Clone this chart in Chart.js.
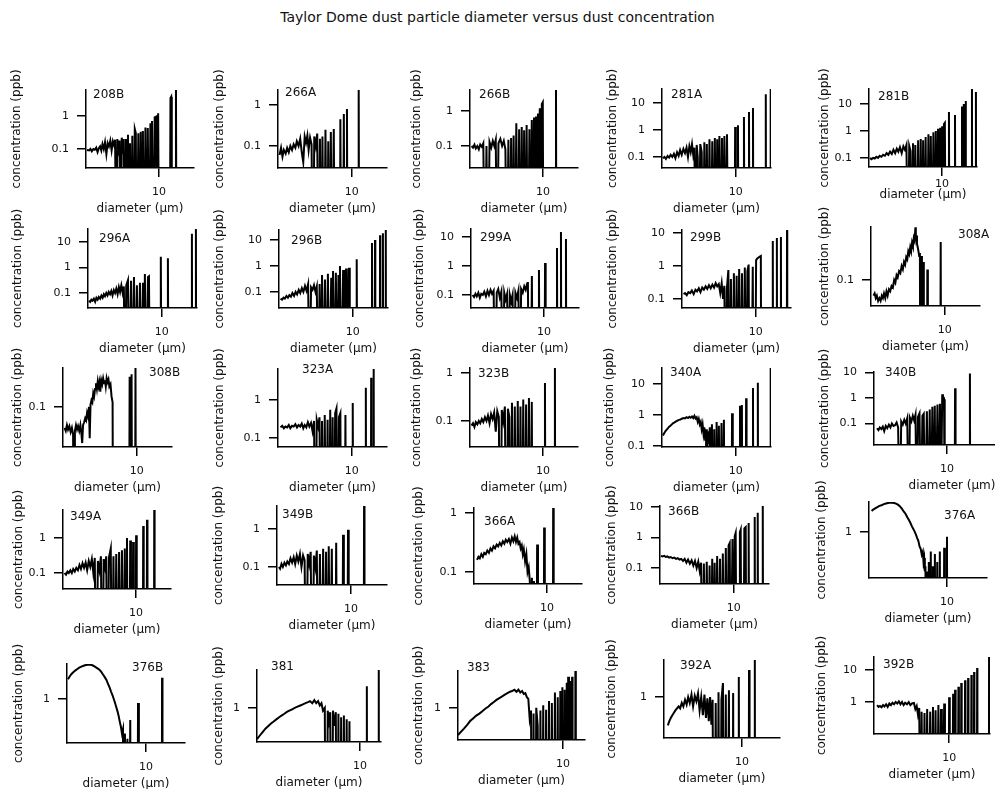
<!DOCTYPE html>
<html>
<head>
<meta charset="utf-8">
<title>Taylor Dome dust</title>
<script src="https://cdn.jsdelivr.net/npm/chart.js@4.4.1/dist/chart.umd.min.js"></script>
<style>
  body { margin: 0; background: #fff; }
  #page { position: relative; width: 995px; height: 789px; overflow: hidden; background: #fff; }
  #title { position: absolute; left: 0; top: 9px; width: 995px; text-align: center; font: 14px "DejaVu Sans", sans-serif; color: #111; }
  #page canvas { position: absolute; }
</style>
</head>
<body>
<div id="page"><div id="title">Taylor Dome dust particle diameter versus dust concentration</div></div>
<script>
// [diameter (um), concentration (ppb)], 0 = empty channel
const s208B = [[1.03,0.093],[1.1,0.09],[1.15,0.1],[1.2,0.085],[1.26,0.1],[1.32,0.095],[1.38,0.11],[1.44,0.08],[1.5,0.105],[1.56,0.12],[1.62,0.09],[1.68,0.14],[1.75,0.1],[1.82,0.16],[1.9,0.07],[1.98,0.15],[2.06,0.12],[2.15,0.18],[2.24,0.09],[2.33,0.17],[2.42,0.13],[2.5,0.19],[2.6,0],[2.68,0.2],[2.78,0.1],[2.88,0.18],[2.98,0],[3.08,0.22],[3.18,0.12],[3.28,0.2],[3.4,0],[3.52,0.2],[3.62,0],[3.75,0.27],[3.85,0],[4.0,0.15],[4.15,0],[4.3,0.25],[4.45,0],[4.65,0.4],[4.8,0.3],[4.95,0],[5.2,0.3],[5.35,0],[5.6,0.33],[5.8,0],[6.0,0.35],[6.2,0],[6.5,0.45],[6.8,0],[7.0,0.43],[7.3,0],[7.6,0.6],[7.8,0],[8.0,0.7],[8.4,0],[8.7,0.9],[9.1,0.95],[9.4,0],[9.7,1.2],[10.0,0],[14.0,0],[14.3,3.5],[14.6,3.8],[14.9,0],[16.7,0],[17.0,7],[17.3,0]]
const s266A = [[1.05,0.06],[1.1,0.09],[1.15,0.055],[1.2,0.08],[1.27,0.065],[1.33,0.09],[1.4,0.07],[1.47,0.1],[1.55,0.08],[1.63,0.11],[1.72,0.09],[1.8,0.13],[1.9,0.1],[2.0,0.15],[2.1,0.07],[2.2,0.04],[2.3,0.17],[2.4,0.12],[2.5,0.18],[2.6,0.08],[2.72,0.16],[2.85,0.11],[2.98,0],[3.1,0.17],[3.25,0.1],[3.4,0.2],[3.55,0],[3.7,0.15],[3.85,0],[4.0,0.17],[4.2,0],[4.4,0.25],[4.6,0],[4.8,0.13],[5.0,0],[5.2,0.22],[5.4,0],[5.7,0.26],[5.9,0],[6.9,0],[7.0,0.45],[7.2,0],[7.6,0],[7.8,0.6],[8.0,0],[8.4,0],[8.6,0.8],[8.8,0],[12.2,0],[12.4,3],[12.6,0]]
const s266B = [[1.05,0.1],[1.1,0.09],[1.15,0.11],[1.2,0.085],[1.26,0.1],[1.32,0.08],[1.38,0.11],[1.45,0.095],[1.52,0.12],[1.6,0],[1.68,0.1],[1.76,0],[1.85,0.13],[1.95,0.09],[2.05,0.14],[2.15,0.1],[2.25,0.15],[2.35,0],[2.45,0.12],[2.6,0.16],[2.75,0.1],[2.9,0.14],[3.05,0.08],[3.2,0],[3.35,0.15],[3.5,0],[3.65,0.17],[3.8,0],[3.95,0.2],[4.1,0],[4.3,0.45],[4.5,0],[4.7,0.3],[4.9,0],[5.1,0.35],[5.3,0],[5.5,0.28],[5.7,0],[5.95,0.4],[6.2,0],[6.5,0.3],[6.7,0],[7.0,0.55],[7.2,0],[7.5,0.65],[7.7,0],[8.0,0.7],[8.2,0],[8.5,0.85],[8.7,0],[9.0,1.2],[9.3,0],[9.6,1.6],[9.9,1.8],[10.1,0],[14.8,0],[15.0,5],[15.2,0]]
const s281A = [[1.03,0.09],[1.08,0.1],[1.13,0.085],[1.19,0.11],[1.25,0.095],[1.31,0.12],[1.38,0.1],[1.45,0.13],[1.52,0.09],[1.6,0.15],[1.68,0.11],[1.76,0.18],[1.85,0.12],[1.95,0.2],[2.05,0.14],[2.15,0.22],[2.25,0.1],[2.35,0.25],[2.45,0.15],[2.55,0.3],[2.65,0.12],[2.75,0.22],[2.85,0],[2.95,0.28],[3.05,0.1],[3.15,0],[3.3,0.3],[3.45,0.15],[3.6,0],[3.75,0.35],[3.9,0],[4.05,0.3],[4.2,0],[4.4,0.45],[4.6,0],[4.8,0.38],[5.0,0],[5.2,0.5],[5.4,0],[5.6,0.45],[5.8,0],[6.0,0.6],[6.2,0],[6.5,0.5],[6.7,0],[7.0,0.6],[7.3,0],[7.6,0.7],[7.9,0],[9.6,0],[9.8,1.3],[10.0,0],[10.5,0],[10.7,1.5],[10.9,0],[12.7,0],[12.9,3],[13.1,0],[14.9,0],[15.1,4.6],[15.3,0],[16.9,0],[17.1,6.5],[17.3,0],[25.3,0],[25.5,21],[25.7,0],[29.4,0],[29.6,40],[29.8,0]]
const s281B = [[1.03,0.1],[1.08,0.09],[1.14,0.1],[1.2,0.095],[1.26,0.11],[1.33,0.1],[1.4,0.12],[1.48,0.11],[1.56,0.13],[1.65,0.12],[1.74,0.15],[1.84,0.13],[1.94,0.17],[2.05,0.14],[2.16,0.2],[2.28,0.15],[2.4,0.22],[2.52,0.17],[2.65,0.25],[2.8,0.15],[2.95,0.27],[3.1,0.2],[3.25,0.3],[3.4,0],[3.55,0.28],[3.7,0.18],[3.85,0],[4.0,0.35],[4.15,0],[4.3,0.3],[4.5,0],[4.7,0.45],[4.9,0],[5.1,0.5],[5.3,0],[5.5,0.45],[5.7,0],[5.95,0.6],[6.2,0],[6.5,0.75],[6.7,0],[7.0,0.65],[7.3,0],[7.6,0.9],[7.9,0],[8.2,1.0],[8.5,0],[8.8,1.2],[9.1,0],[9.4,1.3],[9.7,0],[10.0,1.5],[10.3,0],[10.6,1.8],[10.9,2.0],[11.2,0],[12.2,0],[12.4,5],[12.6,0],[14.8,0],[15,3.9],[15.2,0],[18.5,0],[18.7,8],[18.9,0],[19.6,0],[19.8,10],[20,0],[20.8,0],[21,13],[21.2,0],[25.4,0],[25.6,40],[25.8,0],[28.8,0],[29,28],[29.2,0]]
const s296A = [[1.03,0.05],[1.07,0.045],[1.11,0.055],[1.15,0.05],[1.2,0.06],[1.25,0.045],[1.3,0.065],[1.35,0.055],[1.4,0.07],[1.46,0.06],[1.52,0.08],[1.58,0.065],[1.64,0.09],[1.7,0.075],[1.77,0.1],[1.84,0.08],[1.91,0.11],[1.99,0.09],[2.07,0.12],[2.15,0.08],[2.24,0.13],[2.33,0.1],[2.42,0.15],[2.52,0.09],[2.62,0.17],[2.72,0.11],[2.83,0.2],[2.95,0.1],[3.06,0.18],[3.17,0],[3.3,0.2],[3.48,0.32],[3.6,0],[3.83,0.3],[3.95,0],[4.2,0.42],[4.35,0],[4.6,0.2],[4.75,0],[5.06,0.25],[5.2,0],[5.56,0.25],[5.7,0],[5.9,0.55],[6.1,0],[6.5,0.42],[6.7,0.45],[6.9,0],[9.5,0],[9.7,2.6],[9.9,0],[11.9,0],[12.1,2.3],[12.3,0],[25.4,0],[25.6,21],[25.8,0],[28.8,0],[29,35],[29.2,0]]
const s296B = [[1.05,0.055],[1.1,0.05],[1.15,0.06],[1.2,0.055],[1.26,0.07],[1.32,0.06],[1.38,0.075],[1.45,0.065],[1.52,0.09],[1.6,0.07],[1.68,0.1],[1.76,0.08],[1.85,0.12],[1.94,0.09],[2.04,0.14],[2.14,0.1],[2.25,0.17],[2.36,0.11],[2.48,0.2],[2.6,0],[2.72,0.15],[2.85,0.12],[2.98,0.18],[3.12,0.1],[3.25,0.16],[3.4,0],[3.55,0.2],[3.7,0],[3.83,0.45],[4.0,0],[4.2,0.3],[4.4,0],[4.6,0.5],[4.8,0],[5.1,0.35],[5.25,0],[5.4,0.64],[5.6,0],[5.9,0.54],[6.1,0],[6.4,0.45],[6.55,0],[6.7,1.0],[6.9,0],[7.4,0.7],[7.6,0],[8.1,0.8],[8.3,0],[8.9,0.85],[9.1,0],[11.1,0],[11.3,1.8],[11.5,0],[18,0],[18.2,7.6],[18.4,0],[19.8,0],[20,10],[20.2,0],[23.2,0],[23.4,15],[23.6,0],[25.4,0],[25.6,18],[25.8,0],[27.8,0],[28,26],[28.2,0]]
const s299A = [[1.05,0.1],[1.1,0.085],[1.15,0.11],[1.2,0.09],[1.26,0.12],[1.32,0.08],[1.38,0.11],[1.45,0.1],[1.52,0.13],[1.6,0.09],[1.68,0.14],[1.76,0.1],[1.85,0.15],[1.94,0.11],[2.04,0.14],[2.14,0],[2.25,0.12],[2.36,0.16],[2.48,0.08],[2.6,0.13],[2.72,0],[2.85,0.12],[2.98,0.07],[3.12,0.11],[3.26,0],[3.4,0.1],[3.55,0.06],[3.7,0.1],[3.87,0],[4.05,0.12],[4.25,0.08],[4.45,0.14],[4.65,0],[4.85,0.16],[5.1,0.12],[5.35,0.2],[5.6,0.15],[5.85,0.25],[6.0,0.28],[6.2,0],[6.6,0],[6.8,0.45],[7.0,0],[8.3,0],[8.5,0.73],[8.7,0],[10.1,0],[10.3,1.27],[10.5,0],[14.8,0],[15,4.2],[15.2,0],[16.8,0],[17,15],[17.2,0],[19.7,0],[19.9,8.5],[20.1,0]]
const s299B = [[1.05,0.14],[1.1,0.15],[1.16,0.13],[1.22,0.16],[1.29,0.15],[1.36,0.18],[1.44,0.14],[1.52,0.19],[1.6,0.17],[1.69,0.21],[1.78,0.16],[1.88,0.22],[1.98,0.19],[2.09,0.24],[2.2,0.2],[2.32,0.26],[2.45,0.21],[2.58,0.27],[2.72,0.22],[2.86,0.3],[3.0,0.24],[3.15,0.28],[3.3,0.15],[3.45,0.3],[3.6,0.1],[3.75,0.25],[3.9,0],[4.05,0.2],[4.25,0.75],[4.4,0],[4.6,0.4],[4.8,0],[5.05,0.6],[5.3,0],[5.5,0.5],[5.7,0],[5.95,0.8],[6.2,0],[6.5,0.6],[6.8,0],[7.1,0.9],[7.4,0],[7.7,0.7],[8.0,1.1],[8.2,0],[8.7,0],[9.1,0.95],[9.3,0],[9.8,0],[10.1,1.5],[10.5,1.7],[11.2,1.9],[11.7,2.0],[11.9,0],[16.8,0],[17,5.7],[17.2,0],[19.1,0],[19.3,7],[19.5,0],[21.7,0],[21.9,7.5],[22.1,0],[26.3,0],[26.5,13],[26.7,0]]
const s308A = [[1.08,0.055],[1.12,0.06],[1.16,0.05],[1.2,0.055],[1.25,0.045],[1.3,0.05],[1.35,0.045],[1.4,0.055],[1.45,0.05],[1.5,0.06],[1.56,0.05],[1.62,0.065],[1.68,0.055],[1.75,0.07],[1.82,0.065],[1.9,0.08],[1.98,0.075],[2.06,0.1],[2.14,0.09],[2.22,0.12],[2.3,0.11],[2.4,0.14],[2.5,0.13],[2.6,0.17],[2.7,0.15],[2.8,0.2],[2.9,0.18],[3.0,0.24],[3.1,0.22],[3.2,0.3],[3.3,0.27],[3.4,0.35],[3.5,0.3],[3.6,0.42],[3.7,0.37],[3.8,0.5],[3.9,0.45],[4.0,0.75],[4.05,0.45],[4.1,0.55],[4.2,0.4],[4.3,0.35],[4.4,0.3],[4.5,0.25],[4.6,0.28],[4.7,0],[4.8,0.25],[4.9,0],[5.1,0.2],[5.2,0],[5.7,0],[5.8,0.15],[5.9,0],[8.6,0],[8.8,0.43],[9.0,0]]
const s308B = [[1.05,0.045],[1.09,0.04],[1.13,0.05],[1.17,0.042],[1.22,0.048],[1.27,0.038],[1.32,0.045],[1.37,0.035],[1.41,0],[1.45,0.04],[1.5,0.05],[1.55,0.042],[1.6,0.048],[1.66,0.04],[1.72,0.05],[1.78,0.035],[1.82,0.025],[1.87,0.05],[1.93,0.055],[2.0,0.065],[2.06,0.06],[2.12,0.08],[2.18,0.07],[2.25,0.1],[2.3,0.03],[2.36,0.11],[2.43,0.13],[2.5,0.12],[2.57,0.17],[2.64,0.15],[2.72,0.2],[2.8,0.25],[2.88,0.2],[2.96,0.27],[3.04,0.22],[3.12,0.26],[3.2,0.18],[3.3,0.28],[3.4,0.24],[3.5,0.3],[3.6,0.25],[3.7,0.28],[3.8,0.22],[3.9,0.3],[4.0,0.26],[4.13,0.29],[4.25,0.22],[4.4,0.24],[4.55,0.15],[4.7,0.12],[4.8,0],[7.8,0],[8.0,0.32],[8.2,0],[8.3,0],[8.5,0.35],[8.7,0],[9.4,0],[9.6,0.5],[9.8,0]]
const s323A = [[1.08,0.19],[1.14,0.21],[1.2,0.18],[1.26,0.2],[1.33,0.19],[1.4,0.22],[1.47,0.18],[1.55,0.21],[1.63,0.2],[1.72,0.23],[1.81,0.19],[1.9,0.22],[2.0,0.2],[2.1,0.24],[2.2,0.18],[2.3,0.22],[2.42,0.19],[2.54,0.26],[2.66,0.2],[2.8,0.25],[2.94,0.15],[3.08,0.28],[3.2,0],[3.35,0.3],[3.5,0.2],[3.65,0.35],[3.8,0],[3.95,0.28],[4.1,0],[4.3,0.4],[4.5,0],[4.7,0.3],[4.9,0],[5.1,0.55],[5.3,0],[5.5,0.35],[5.7,0],[5.95,0.45],[6.2,0.6],[6.4,0],[6.7,0.35],[7.0,0.45],[7.2,0],[8.0,0],[8.2,0.4],[8.4,0],[10.1,0],[10.3,0.83],[10.5,0],[15.3,0],[15.5,2.1],[15.7,0],[18.1,0],[18.3,3.8],[18.5,0],[19.6,0],[19.8,7],[20,0]]
const s323B = [[1.05,0.08],[1.1,0.09],[1.15,0.075],[1.2,0.095],[1.26,0.085],[1.32,0.1],[1.38,0.09],[1.45,0.11],[1.52,0.095],[1.6,0.12],[1.68,0.1],[1.76,0.13],[1.85,0.09],[1.94,0.14],[2.04,0.11],[2.14,0.15],[2.25,0.06],[2.36,0.16],[2.48,0.12],[2.6,0],[2.72,0.17],[2.85,0.1],[3.0,0.2],[3.15,0],[3.3,0.18],[3.45,0.12],[3.6,0],[3.75,0.24],[3.9,0],[4.1,0.2],[4.3,0],[4.5,0.26],[4.7,0],[4.9,0.2],[5.1,0],[5.35,0.28],[5.6,0],[5.85,0.22],[6.1,0],[6.4,0.3],[6.7,0],[7.0,0.25],[7.2,0],[10.4,0],[10.6,0.62],[10.8,0],[14.3,0],[14.5,1.5],[14.7,0]]
const s340A = [[1.03,0.22],[1.07,0.26],[1.11,0.3],[1.15,0.33],[1.2,0.37],[1.25,0.42],[1.3,0.45],[1.36,0.5],[1.42,0.55],[1.48,0.58],[1.55,0.62],[1.62,0.66],[1.7,0.7],[1.78,0.72],[1.86,0.76],[1.95,0.8],[2.05,0.78],[2.15,0.85],[2.25,0.8],[2.35,0.88],[2.45,0.82],[2.55,0.9],[2.65,0.8],[2.75,0.95],[2.85,0.78],[2.95,0.85],[3.05,0.6],[3.15,0.75],[3.25,0.5],[3.35,0.6],[3.45,0.35],[3.55,0.5],[3.65,0.25],[3.75,0.4],[3.85,0.15],[3.95,0.35],[4.05,0],[4.15,0.3],[4.3,0.12],[4.45,0.4],[4.6,0],[4.75,0.5],[4.9,0],[5.1,0.35],[5.3,0],[5.5,0.6],[5.7,0],[5.9,0.45],[6.1,0],[6.4,0.55],[6.6,0],[6.9,0.7],[7.1,0],[8.7,0],[8.9,1.15],[9.1,0],[11.2,0],[11.4,2],[11.6,0],[11.9,0],[12.1,2.1],[12.3,0],[13.6,0],[13.8,3.5],[14,0],[16.9,0],[17.1,7.4],[17.3,0],[19.7,0],[19.9,11],[20.1,0],[29.4,0],[29.6,40],[29.8,0]]
const s340B = [[1.1,0.065],[1.15,0.055],[1.2,0.07],[1.26,0.06],[1.32,0.075],[1.38,0.05],[1.45,0.08],[1.52,0.065],[1.6,0.09],[1.68,0.07],[1.76,0.1],[1.85,0.08],[1.94,0.085],[2.04,0.11],[2.14,0.07],[2.25,0],[2.36,0.12],[2.48,0.09],[2.6,0.14],[2.72,0.1],[2.85,0.16],[3.0,0],[3.1,0.17],[3.25,0.12],[3.4,0.2],[3.55,0.13],[3.7,0.22],[3.85,0],[4.0,0.18],[4.2,0.25],[4.4,0],[4.6,0.2],[4.8,0.24],[5.0,0],[5.3,0.3],[5.5,0],[5.8,0.35],[6.0,0],[6.3,0.45],[6.5,0],[6.8,0.5],[7.0,0],[7.4,0.55],[7.6,0],[8.0,0.6],[8.2,0],[8.6,1.4],[8.8,0.8],[9.1,0.9],[9.3,0],[12.7,0],[12.9,2.4],[13.1,0],[20.4,0],[20.6,9.1],[20.8,0]]
const s349A = [[1.05,0.1],[1.1,0.09],[1.15,0.11],[1.2,0.1],[1.26,0.12],[1.32,0.1],[1.38,0.13],[1.45,0.11],[1.52,0.14],[1.6,0.12],[1.68,0.17],[1.76,0.13],[1.85,0.19],[1.94,0.14],[2.04,0.2],[2.14,0.12],[2.25,0.22],[2.36,0.15],[2.48,0.25],[2.6,0.1],[2.72,0.27],[2.85,0],[3.0,0.22],[3.15,0.12],[3.3,0.3],[3.45,0],[3.6,0.25],[3.75,0.15],[3.9,0.3],[4.05,0],[4.25,0.28],[4.5,0.5],[4.7,0],[4.9,0.3],[5.1,0],[5.35,0.35],[5.6,0],[5.85,0.4],[6.1,0],[6.4,0.45],[6.7,0],[7.0,0.5],[7.3,0],[7.5,1.0],[7.7,0],[8.1,0],[8.3,0.85],[8.5,0],[8.9,0],[9.1,0.77],[9.3,0],[9.8,0],[10,1.2],[10.2,0],[12.3,0],[12.5,2.2],[12.7,0],[13.9,0],[14.1,3.3],[14.3,0],[17.5,0],[17.7,7],[17.9,0]]
const s349B = [[1.06,0.1],[1.1,0.09],[1.15,0.12],[1.2,0.1],[1.26,0.13],[1.32,0.11],[1.38,0.14],[1.45,0.12],[1.52,0.17],[1.6,0.13],[1.68,0.18],[1.76,0.12],[1.85,0.2],[1.94,0.14],[2.04,0.22],[2.14,0.1],[2.25,0.2],[2.36,0.15],[2.48,0],[2.6,0.22],[2.72,0.12],[2.85,0.25],[3.0,0],[3.15,0.2],[3.3,0.1],[3.45,0.27],[3.6,0],[3.8,0.22],[4.0,0],[4.2,0.3],[4.4,0],[4.6,0.25],[4.8,0],[5.0,0.35],[5.2,0],[5.5,0.3],[5.7,0],[6.1,0],[6.3,0.43],[6.5,0],[7.6,0],[7.8,0.7],[8.0,0],[8.9,0],[9.1,0.95],[9.3,0],[14.8,0],[15,5],[15.2,0]]
const s366A = [[1.1,0.16],[1.15,0.18],[1.2,0.17],[1.26,0.2],[1.32,0.18],[1.38,0.21],[1.45,0.2],[1.52,0.23],[1.6,0.21],[1.68,0.25],[1.76,0.23],[1.85,0.27],[1.94,0.25],[2.04,0.29],[2.14,0.27],[2.25,0.31],[2.36,0.28],[2.48,0.33],[2.6,0.3],[2.72,0.35],[2.85,0.32],[3.0,0.36],[3.15,0.3],[3.3,0.38],[3.45,0.33],[3.6,0.4],[3.75,0.32],[3.9,0.38],[4.05,0.3],[4.2,0.32],[4.35,0.25],[4.5,0.28],[4.65,0.2],[4.8,0.24],[5.0,0.15],[5.2,0.2],[5.4,0.1],[5.6,0.12],[5.8,0.07],[6.0,0],[6.2,0.08],[6.4,0],[6.6,0.07],[6.8,0],[7.1,0],[7.3,0.29],[7.5,0],[8.9,0],[9.1,0.56],[9.3,0],[11.9,0],[12.1,1.3],[12.3,0]]
const s366B = [[1.03,0.25],[1.08,0.24],[1.14,0.25],[1.2,0.23],[1.26,0.24],[1.33,0.22],[1.4,0.23],[1.48,0.21],[1.56,0.22],[1.65,0.2],[1.74,0.21],[1.84,0.19],[1.94,0.2],[2.05,0.17],[2.16,0.2],[2.28,0.15],[2.4,0.19],[2.54,0.14],[2.68,0.18],[2.83,0.12],[2.98,0.17],[3.14,0.1],[3.3,0.16],[3.45,0.08],[3.6,0.15],[3.75,0],[3.93,0.14],[4.1,0],[4.3,0.16],[4.5,0],[4.7,0.12],[4.9,0],[5.1,0.2],[5.3,0],[5.5,0.15],[5.7,0],[5.95,0.25],[6.2,0],[6.5,0.2],[6.8,0],[7.1,0.3],[7.4,0],[7.8,0.45],[8.1,0],[8.5,0.55],[8.8,0.66],[9.1,0],[9.6,0.9],[9.9,0],[10.3,1.1],[10.6,1.4],[10.9,0],[11.8,0],[12.1,1.5],[12.4,1.8],[12.7,0],[13.5,0],[13.9,2],[14.5,2.2],[14.8,0],[15.6,0],[15.9,3],[16.2,0],[18.9,0],[19.2,4.7],[19.5,0],[20.8,0],[21.1,6.5],[21.4,0],[24.4,0],[24.7,11],[25,0]]
const s376A = [[1.08,2.05],[1.13,2.15],[1.2,2.25],[1.28,2.35],[1.36,2.45],[1.45,2.5],[1.55,2.6],[1.65,2.65],[1.75,2.7],[1.86,2.75],[1.97,2.72],[2.1,2.7],[2.22,2.65],[2.35,2.55],[2.5,2.4],[2.65,2.2],[2.8,2.0],[2.95,1.85],[3.1,1.65],[3.25,1.5],[3.4,1.35],[3.55,1.2],[3.7,1.1],[3.85,1.0],[4.0,0.9],[4.15,0.8],[4.3,0.72],[4.45,0.6],[4.6,0.55],[4.75,0.45],[4.9,0.5],[5.0,0.35],[5.1,0.4],[5.2,0.25],[5.3,0.3],[5.4,0],[5.55,0.25],[5.7,0],[5.85,0.35],[6.0,0],[6.2,0.5],[6.35,0],[6.6,0.3],[6.8,0],[7.0,0.46],[7.2,0],[7.5,0.35],[7.7,0],[8.1,0.5],[8.3,0],[8.9,0],[9.2,0.57],[9.4,0],[9.8,0],[10,0.84],[10.2,0]]
const s376B = [[1.03,2.0],[1.08,2.2],[1.14,2.4],[1.2,2.55],[1.27,2.7],[1.35,2.85],[1.43,3.0],[1.52,3.1],[1.62,3.2],[1.73,3.28],[1.85,3.3],[1.97,3.3],[2.1,3.25],[2.25,3.1],[2.4,2.95],[2.55,2.8],[2.7,2.6],[2.85,2.35],[3.0,2.15],[3.15,1.95],[3.3,1.7],[3.45,1.5],[3.6,1.3],[3.75,1.15],[3.9,1.0],[4.05,0.87],[4.2,0.75],[4.35,0.65],[4.5,0.55],[4.65,0.45],[4.8,0.38],[4.95,0.3],[5.1,0.35],[5.25,0],[5.4,0.3],[5.6,0],[5.8,0.25],[6.0,0],[6.3,0.48],[6.5,0],[7.7,0],[7.9,0.87],[8.1,0],[15.7,0],[15.9,2.1],[16.1,0]]
const s381 = [[0.4,0.3],[0.44,0.35],[0.48,0.4],[0.52,0.45],[0.57,0.5],[0.62,0.55],[0.68,0.6],[0.74,0.65],[0.8,0.7],[0.87,0.75],[0.94,0.8],[1.02,0.86],[1.1,0.9],[1.2,0.95],[1.3,1.0],[1.42,1.05],[1.55,1.1],[1.68,1.15],[1.82,1.2],[1.97,1.25],[2.1,1.3],[2.25,1.2],[2.4,1.35],[2.55,1.2],[2.7,1.3],[2.85,1.1],[3.0,1.2],[3.15,0.9],[3.33,1.0],[3.5,0],[3.65,0.9],[3.8,0.6],[3.95,0.85],[4.1,0],[4.3,0.9],[4.5,0.5],[4.7,0.85],[4.9,0],[5.1,0.8],[5.3,0],[5.55,0.7],[5.8,0],[6.05,0.75],[6.3,0],[6.6,0.65],[6.9,0],[7.2,0.6],[7.4,0],[12.2,0],[12.4,2.3],[12.6,0],[17.8,0],[18,4.5],[18.2,0]]
const s383 = [[0.4,0.35],[0.44,0.4],[0.48,0.45],[0.53,0.52],[0.58,0.6],[0.64,0.67],[0.7,0.74],[0.77,0.8],[0.85,0.88],[0.93,0.97],[1.02,1.05],[1.1,1.15],[1.2,1.25],[1.3,1.35],[1.42,1.45],[1.55,1.55],[1.68,1.65],[1.82,1.75],[1.97,1.85],[2.1,1.9],[2.25,2.0],[2.4,1.85],[2.55,2.0],[2.7,1.8],[2.85,1.9],[3.0,1.7],[3.15,1.75],[3.3,1.5],[3.45,1.4],[3.6,0.65],[3.75,0.9],[3.9,0],[4.05,0.8],[4.2,0],[4.4,1.0],[4.6,0.5],[4.8,0],[5.0,0.9],[5.2,0],[5.45,1.1],[5.7,0],[5.95,0.93],[6.2,0],[6.5,1.3],[6.8,0],[7.1,1.2],[7.4,0],[7.8,1.8],[8.1,0],[8.5,1.5],[8.8,0],[9.2,1.9],[9.5,0],[9.8,2.2],[10.1,0],[10.5,2.0],[10.8,0],[11.2,2.6],[11.5,0],[11.7,3.3],[12.0,0],[12.5,2.8],[12.8,0],[13.2,3.3],[13.4,0],[14.4,0],[14.6,4.5],[14.8,0]]
const s392A = [[1.12,0.34],[1.17,0.4],[1.22,0.45],[1.28,0.5],[1.34,0.55],[1.4,0.6],[1.47,0.65],[1.54,0.7],[1.61,0.65],[1.69,0.8],[1.77,0.7],[1.86,0.9],[1.95,0.75],[2.04,1.0],[2.14,0.8],[2.25,1.1],[2.36,0.7],[2.48,1.05],[2.6,0.85],[2.73,1.15],[2.86,0.6],[3.0,1.0],[3.15,0.5],[3.3,1.1],[3.45,0.45],[3.6,0.95],[3.75,0.4],[3.9,1.0],[4.05,0.35],[4.2,0.9],[4.4,0],[4.6,0.8],[4.8,0],[5.0,1.2],[5.2,0],[5.45,0.9],[5.7,1.7],[5.9,0],[6.2,1.1],[6.4,0],[6.8,1.3],[7.0,0],[7.5,0],[7.7,1.17],[7.9,0],[8.9,0],[9.1,2.15],[9.3,0],[12.1,0],[12.3,2.8],[12.5,0],[14.4,0],[14.6,4.5],[14.8,0]]
const s392B = [[1.1,0.8],[1.15,0.7],[1.2,0.75],[1.26,0.68],[1.32,0.8],[1.38,0.72],[1.45,0.85],[1.52,0.7],[1.6,0.9],[1.68,0.8],[1.76,0.95],[1.85,0.85],[1.94,1.0],[2.04,0.9],[2.14,1.05],[2.25,0.85],[2.36,1.0],[2.48,0.8],[2.6,0.95],[2.75,0.85],[2.9,1.0],[3.05,0.8],[3.2,0.9],[3.4,0.93],[3.55,0.6],[3.7,0.75],[3.85,0.4],[4.0,0.65],[4.15,0],[4.3,0.5],[4.5,0],[4.7,0.45],[4.9,0],[5.1,0.6],[5.3,0],[5.6,0.5],[5.8,0],[6.1,0.7],[6.3,0],[6.6,0.55],[6.8,0],[7.2,0.8],[7.4,0],[7.8,0.6],[8.0,0],[8.6,0.9],[8.8,0],[9.8,0],[10,1.4],[10.2,0],[11,0],[11.3,1.8],[11.5,0],[11.8,0],[12,2.4],[12.2,0],[13,0],[13.3,3],[13.5,0],[14.3,0],[14.5,3.9],[14.7,0],[16,0],[16.3,4.8],[16.5,0],[17.7,0],[17.9,5.6],[18.1,0],[19.5,0],[19.8,7],[20,0],[21.3,0],[21.5,8.7],[21.7,0],[23.4,0],[23.6,11.5],[23.8,0],[33.8,0],[34,30],[34.2,0]]

// panel layout: plot box [left, top, right, bottom], y-title x, label position
const panels = [
  { name: "208B", data: s208B, y: [0.0266, 6.1], yTicks: [0.1, 1], box: [86, 90, 194, 168], tx: 17, lab: [93, 95] },
  { name: "266A", data: s266A, y: [0.029, 2.32], yTicks: [0.1, 1], box: [278, 90, 387, 168], tx: 220, lab: [285, 93] },
  { name: "266B", data: s266B, y: [0.0235, 4.0], yTicks: [0.1, 1], box: [470, 90, 578, 168], tx: 417, lab: [479, 95] },
  { name: "281A", data: s281A, y: [0.039, 33], yTicks: [0.1, 1, 10], box: [662, 89, 771, 168], tx: 613, lab: [671, 95] },
  { name: "281B", data: s281B, y: [0.046, 36], yTicks: [0.1, 1, 10], box: [869, 89, 977, 167], tx: 825, lab: [878, 97], xh: 35, tickPad: 2 },
  { name: "296A", data: s296A, y: [0.026, 32], yTicks: [0.1, 1, 10], box: [88, 229, 197, 308], tx: 18, lab: [99, 239] },
  { name: "296B", data: s296B, y: [0.024, 24], yTicks: [0.1, 1, 10], box: [279, 230, 388, 308], tx: 220, lab: [291, 241] },
  { name: "299A", data: s299A, y: [0.0356, 18.9], yTicks: [0.1, 1, 10], box: [471, 229, 579, 308], tx: 420, lab: [480, 238] },
  { name: "299B", data: s299B, y: [0.053, 12.3], yTicks: [0.1, 1, 10], box: [682, 230, 791, 308], tx: 613, lab: [690, 238] },
  { name: "308A", data: s308A, y: [0.037, 0.76], yTicks: [0.1], box: [871, 227, 980, 306], tx: 825, lab: [958, 235] },
  { name: "308B", data: s308B, y: [0.0215, 0.447], yTicks: [0.1], box: [63, 368, 172, 447], tx: 18, lab: [149, 373] },
  { name: "323A", data: s323A, y: [0.058, 6.5], yTicks: [0.1, 1], box: [278, 369, 387, 447], tx: 220, lab: [302, 370] },
  { name: "323B", data: s323B, y: [0.0287, 1.27], yTicks: [0.1, 1], box: [470, 368, 578, 447], tx: 417, lab: [478, 374] },
  { name: "340A", data: s340A, y: [0.093, 33], yTicks: [0.1, 1, 10], box: [662, 368, 771, 447], tx: 610, lab: [670, 373] },
  { name: "340B", data: s340B, y: [0.0143, 10.5], yTicks: [0.1, 1, 10], box: [874, 372, 1030, 445], tx: 825, lab: [885, 373], x: [1, 137] },
  { name: "349A", data: s349A, y: [0.035, 6.3], yTicks: [0.1, 1], box: [63, 510, 171, 589], tx: 19, lab: [70, 517] },
  { name: "349B", data: s349B, y: [0.0336, 4.0], yTicks: [0.1, 1], box: [277, 506, 387, 585], tx: 219, lab: [282, 515], x: [1, 30.6] },
  { name: "366A", data: s366A, y: [0.0626, 1.2], yTicks: [0.1, 1], box: [474, 508, 582, 584], tx: 419, lab: [484, 522] },
  { name: "366B", data: s366B, y: [0.03, 10.8], yTicks: [0.1, 1, 10], box: [660, 506, 769, 584], tx: 612, lab: [668, 512] },
  { name: "376A", data: s376A, y: [0.2, 2.8], yTicks: [1], box: [869, 502, 987, 578], tx: 822, lab: [944, 516], x: [1, 32.6] },
  { name: "376B", data: s376B, y: [0.215, 3.4], yTicks: [1], box: [67, 664, 185, 743], tx: 19, lab: [132, 668], x: [1, 31] },
  { name: "381", data: s381, y: [0.27, 4.3], yTicks: [1], box: [257, 670, 381, 742], tx: 219, lab: [271, 667], x: [0.4, 19.3] },
  { name: "383", data: s383, y: [0.29, 4.1], yTicks: [1], box: [458, 671, 585, 740], tx: 419, lab: [467, 668], x: [0.4, 19.6] },
  { name: "392A", data: s392A, y: [0.21, 4.1], yTicks: [1], box: [664, 660, 780, 738], tx: 612, lab: [680, 666], x: [1, 30.7] },
  { name: "392B", data: s392B, y: [0.1, 25.5], yTicks: [1, 10], box: [874, 657, 990, 734], tx: 822, lab: [883, 665], x: [1, 35] },
]

const Chart = window.Chart
Chart.defaults.font.family = "'DejaVu Sans', sans-serif"
Chart.defaults.color = "#111"

const INK = "#000"
const PAD_TOP = 40
const PAD_RIGHT = 16

// sample name written inside each plot
const panelLabel = {
  id: "panelLabel",
  afterDraw(chart, args, opts) {
    const ctx = chart.ctx
    ctx.save()
    ctx.font = "12px 'DejaVu Sans', sans-serif"
    ctx.fillStyle = "#111"
    ctx.textBaseline = "middle"
    ctx.fillText(opts.text, opts.x, opts.y)
    ctx.restore()
  },
}

function drawPanel(p) {
  const [L, T, R, B] = p.box
  const left = p.tx - 7
  const top = T - PAD_TOP
  const xh = p.xh || 48
  const yw = L - left
  const xRange = p.x || [1, 30]

  const canvas = document.createElement("canvas")
  canvas.width = R - left + PAD_RIGHT
  canvas.height = B + xh - top
  canvas.style.left = left + "px"
  canvas.style.top = top + "px"
  document.getElementById("page").appendChild(canvas)

  new Chart(canvas, {
    type: "line",
    data: {
      datasets: [
        {
          data: p.data.map(([d, c]) => ({ x: d, y: c > 0 ? c : 1e-5 })),
          borderColor: INK,
          borderWidth: 2,
          pointRadius: 0,
          tension: 0,
          fill: false,
        },
      ],
    },
    options: {
      responsive: false,
      animation: false,
      devicePixelRatio: 1,
      events: [],
      layout: { padding: { top: PAD_TOP, right: PAD_RIGHT, left: 0, bottom: 0 } },
      plugins: {
        legend: { display: false },
        tooltip: { enabled: false },
        panelLabel: { text: p.name, x: p.lab[0] - left, y: p.lab[1] - top },
      },
      scales: {
        x: {
          type: "logarithmic",
          position: "bottom",
          bounds: "data",
          min: xRange[0],
          max: xRange[1],
          afterFit: (s) => { s.height = xh },
          afterBuildTicks: (s) => { s.ticks = [{ value: 10 }] },
          ticks: { padding: p.tickPad ?? 9, maxRotation: 0, autoSkip: false, font: { size: 11 }, callback: (v) => String(v) },
          grid: { drawOnChartArea: false, drawTicks: true, tickLength: 9, color: INK, lineWidth: 1.5 },
          border: { display: true, color: INK, width: 1.5 },
          title: { display: true, text: "diameter (μm)", padding: 0, font: { size: 12 } },
        },
        y: {
          type: "logarithmic",
          position: "left",
          bounds: "data",
          min: p.y[0],
          max: p.y[1],
          afterFit: (s) => { s.width = yw },
          afterBuildTicks: (s) => { s.ticks = p.yTicks.map((v) => ({ value: v })) },
          ticks: { padding: 8, autoSkip: false, font: { size: 11 }, callback: (v) => String(v) },
          grid: { drawOnChartArea: false, drawTicks: true, tickLength: 9, color: INK, lineWidth: 1.5 },
          border: { display: true, color: INK, width: 1.5 },
          title: { display: true, text: "concentration (ppb)", padding: 0, font: { size: 12 } },
        },
      },
    },
    plugins: [panelLabel],
  })
}

panels.forEach(drawPanel)
</script>
</body>
</html>
